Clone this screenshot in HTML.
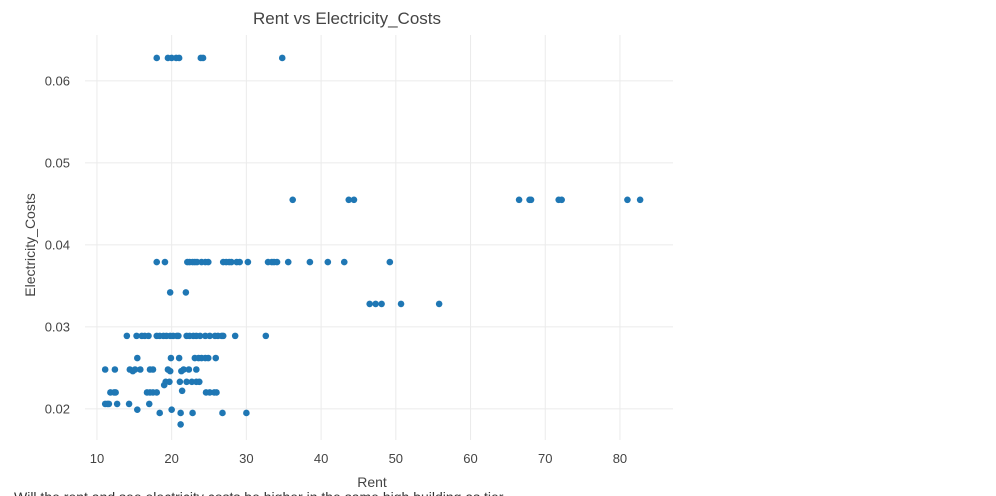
<!DOCTYPE html>
<html><head><meta charset="utf-8"><style>
body{margin:0;background:#fff;}
svg{display:block;font-family:"Liberation Sans",sans-serif;}
</style></head><body>
<svg id="chart" width="996" height="496">
<g id="grid"></g>
<g id="xticks"></g>
<g id="yticks"></g>
<g id="points"></g>
<text x="347" y="24" text-anchor="middle" font-size="17" fill="#444">Rent vs Electricity_Costs</text>
<text x="372" y="487" text-anchor="middle" font-size="14" fill="#444">Rent</text>
<text transform="translate(35,245) rotate(-90)" text-anchor="middle" font-size="14" fill="#444">Electricity_Costs</text>
<text x="14" y="502" font-size="14" fill="#333">Will the rent and see electricity costs be higher in the same high building as tier</text>
</svg>
<script>
const xTicks=[10,20,30,40,50,60,70,80];
const yTicks=[0.02,0.03,0.04,0.05,0.06];
const yTickLabels=["0.02","0.03","0.04","0.05","0.06"];
const rentValues=[
14.0,15.3,16.0,16.4,16.9,18.0,18.4,18.9,19.3,19.8,20.2,20.7,20.9,22.0,22.4,22.9,23.3,23.8,24.5,25.1,25.8,26.2,26.7,26.9,28.5,32.6,
15.4,19.9,21.0,23.1,23.6,24.0,24.5,24.9,25.9,
11.1,12.4,14.4,14.8,15.1,15.8,17.1,17.5,19.5,19.8,21.3,21.6,22.3,23.3,
19.2,19.7,21.1,22.0,22.7,23.3,23.7,19.0,
21.4,
11.8,12.3,12.5,16.7,17.1,17.5,18.0,24.6,25.1,25.7,26.0,
11.1,11.4,11.6,12.7,14.3,17.0,
15.4,20.0,
18.4,21.2,22.8,26.8,30.0,
21.2,
18.0,19.1,22.1,22.4,22.8,23.1,23.4,24.0,24.5,24.9,26.9,27.3,27.7,28.0,28.7,29.1,30.2,32.9,33.4,33.7,34.1,35.6,38.5,40.9,43.1,49.2,
19.8,21.9,
46.5,47.3,48.1,50.7,55.8,
36.2,43.7,44.4,66.5,67.9,68.1,71.8,72.2,81.0,82.7,
18.0,19.5,20.0,20.6,21.0,23.9,24.2,34.8];
const electricityValues=[
0.0289,0.0289,0.0289,0.0289,0.0289,0.0289,0.0289,0.0289,0.0289,0.0289,0.0289,0.0289,0.0289,0.0289,0.0289,0.0289,0.0289,0.0289,0.0289,0.0289,0.0289,0.0289,0.0289,0.0289,0.0289,0.0289,
0.0262,0.0262,0.0262,0.0262,0.0262,0.0262,0.0262,0.0262,0.0262,
0.0248,0.0248,0.0248,0.0246,0.0248,0.0248,0.0248,0.0248,0.0248,0.0246,0.0246,0.0248,0.0248,0.0248,
0.0233,0.0233,0.0233,0.0233,0.0233,0.0233,0.0233,0.0229,
0.0222,
0.0220,0.0220,0.0220,0.0220,0.0220,0.0220,0.0220,0.0220,0.0220,0.0220,0.0220,
0.0206,0.0206,0.0206,0.0206,0.0206,0.0206,
0.0199,0.0199,
0.0195,0.0195,0.0195,0.0195,0.0195,
0.0181,
0.0379,0.0379,0.0379,0.0379,0.0379,0.0379,0.0379,0.0379,0.0379,0.0379,0.0379,0.0379,0.0379,0.0379,0.0379,0.0379,0.0379,0.0379,0.0379,0.0379,0.0379,0.0379,0.0379,0.0379,0.0379,0.0379,
0.0342,0.0342,
0.0328,0.0328,0.0328,0.0328,0.0328,
0.0455,0.0455,0.0455,0.0455,0.0455,0.0455,0.0455,0.0455,0.0455,0.0455,
0.0628,0.0628,0.0628,0.0628,0.0628,0.0628,0.0628,0.0628];
const NS="http://www.w3.org/2000/svg";
const L=85,R=673,T=35,B=440;
const xMin=8.4,xMax=87.1,yMin=0.0162,yMax=0.0656;
function xs(v){return L+(v-xMin)/(xMax-xMin)*(R-L);}
function ys(v){return B-(v-yMin)/(yMax-yMin)*(B-T);}
function mk(tag,attrs,parent){const e=document.createElementNS(NS,tag);for(const k in attrs)e.setAttribute(k,attrs[k]);parent.appendChild(e);return e;}
const grid=document.getElementById('grid'),xt=document.getElementById('xticks'),yt=document.getElementById('yticks'),pts=document.getElementById('points');
xTicks.forEach(v=>{
 const l=mk('line',{x1:xs(v),x2:xs(v),y1:T,y2:B,stroke:'#ebebeb','stroke-width':1},grid);
 
 
 const t=mk('text',{x:xs(v),y:463,'text-anchor':'middle','font-size':13,fill:'#444'},xt);
 t.textContent=v;
 
 
});
yTicks.forEach((v,i)=>{
 const l=mk('line',{x1:L,x2:R,y1:ys(v),y2:ys(v),stroke:'#ebebeb','stroke-width':1},grid);
 
 
 const t=mk('text',{x:70,y:ys(v)+4.5,'text-anchor':'end','font-size':13,fill:'#444'},yt);
 t.textContent=yTickLabels[i];
 
 
});
rentValues.forEach((r,i)=>{
 const c=mk('circle',{cx:xs(r),cy:ys(electricityValues[i]),r:3.3,fill:'#1f77b4'},pts);
 
 
});
</script>
</body></html>
